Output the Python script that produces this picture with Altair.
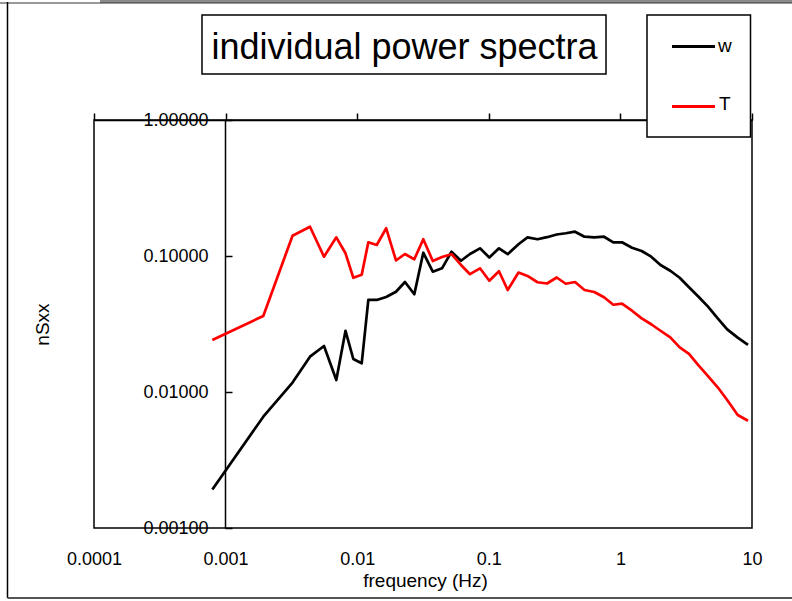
import altair as alt
import pandas as pd

# ---- data ----
freq = [0.000793, 0.001934, 0.003225, 0.004378, 0.005594, 0.006938, 0.008150, 0.009342, 0.01082, 0.01215,
        0.01407, 0.01661, 0.01971, 0.02307, 0.02716, 0.03178, 0.03753, 0.04410, 0.05208, 0.06149,
        0.07195, 0.08573, 0.1009, 0.1195, 0.1392, 0.1681, 0.1968, 0.2345, 0.2768, 0.3281,
        0.3841, 0.4519, 0.5336, 0.6333, 0.7506, 0.8830, 1.0285, 1.2249, 1.451, 1.714,
        2.017, 2.394, 2.822, 3.321, 3.923, 4.632, 5.488, 6.480, 7.786, 9.324]
w_vals = [0.00192, 0.00658, 0.01174, 0.01818, 0.02179, 0.01225, 0.0282, 0.01748, 0.01626, 0.0475,
          0.0475, 0.0499, 0.0546, 0.0644, 0.0523, 0.1057, 0.0767, 0.0812, 0.1075, 0.0922,
          0.1034, 0.1139, 0.0975, 0.1139, 0.1031, 0.1221, 0.1372, 0.1327, 0.1375, 0.1439,
          0.1469, 0.1509, 0.1386, 0.1372, 0.1386, 0.1261, 0.1261, 0.1151, 0.1088, 0.0988,
          0.0859, 0.0779, 0.0692, 0.0589, 0.0502, 0.0424, 0.0348, 0.0289, 0.0251, 0.0222]
T_vals = [0.02413, 0.03622, 0.1410, 0.1642, 0.0988, 0.1372, 0.1047, 0.0692, 0.0729, 0.1261,
          0.1205, 0.1599, 0.0927, 0.1034, 0.0946, 0.1329, 0.0919, 0.0983, 0.1031, 0.0859,
          0.0735, 0.0812, 0.0658, 0.0773, 0.0562, 0.0756, 0.0713, 0.0641, 0.0628, 0.0695,
          0.0625, 0.0644, 0.0562, 0.0544, 0.0497, 0.0438, 0.0446, 0.0396, 0.0348, 0.0315,
          0.0282, 0.0252, 0.0213, 0.0191, 0.0157, 0.0131, 0.01083, 0.00873, 0.00678, 0.00615]
series_names = ["w", "T"]
series_colors = ["#000000", "#ff0000"]
x_ticks = [0.0001, 0.001, 0.01, 0.1, 1, 10]
y_ticks = [0.001, 0.01, 0.1, 1]
chart_title = "individual power spectra"
x_title = "frequency (Hz)"
y_title = "nSxx"

FONT = "Liberation Sans"

df = pd.concat([
    pd.DataFrame({"freq": freq, "val": w_vals, "series": "w", "order": 0}),
    pd.DataFrame({"freq": freq, "val": T_vals, "series": "T", "order": 1}),
], ignore_index=True)

W, H = 658, 408
xscale = alt.Scale(type="log", domain=[0.0001, 10], nice=False)
yscale = alt.Scale(type="log", domain=[0.001, 1], nice=False)

# layer carrying bottom x labels and left y labels (axis line at x = 0.001)
axes_a = alt.Chart(df).mark_line(opacity=0).encode(
    x=alt.X("freq:Q", scale=xscale, axis=alt.Axis(
        orient="bottom", values=x_ticks, format="~g", domain=False, ticks=False, grid=False,
        labelPadding=22, labelFontSize=18, labelFont=FONT, labelColor="black",
        labelFlush=False, labelOverlap=False,
        title=x_title, titleFont=FONT, titleFontSize=19, titleFontWeight="normal", titleColor="black",
        titleX=331, titleY=52, titleBaseline="middle", titleAlign="center")),
    y=alt.Y("val:Q", scale=yscale, axis=alt.Axis(
        orient="left", offset=-131, values=y_ticks, format=".5f", domain=True, domainColor="black",
        domainWidth=1.5, ticks=False, grid=False, labelPadding=17, labelFontSize=18, labelFont=FONT,
        labelColor="black", labelFlush=False, labelOverlap=False,
        title=y_title, titleFont=FONT, titleFontSize=19, titleFontWeight="normal", titleColor="black",
        titleX=-183, titleY=204, titleAngle=270, titleBaseline="middle", titleAlign="center")),
)

# layer carrying top x ticks and inward y ticks
axes_b = alt.Chart(df).mark_line(opacity=0).encode(
    x=alt.X("freq:Q", scale=xscale, axis=alt.Axis(
        orient="top", values=x_ticks, labels=False, ticks=True, tickSize=7, tickColor="black",
        tickWidth=1.5, domain=True, domainColor="black", domainWidth=1.5, grid=False, title=None)),
    y=alt.Y("val:Q", scale=yscale, axis=alt.Axis(
        orient="right", offset=-527, values=y_ticks, labels=False, ticks=True, tickSize=7,
        tickColor="black", tickWidth=1.5, domain=False, grid=False, title=None)),
)

lines = alt.Chart(df).mark_line(strokeWidth=2.7, strokeJoin="round").encode(
    x=alt.X("freq:Q", scale=xscale, axis=None),
    y=alt.Y("val:Q", scale=yscale, axis=None),
    color=alt.Color("series:N", scale=alt.Scale(domain=series_names, range=series_colors), legend=None),
    order="order:Q",
)

one = pd.DataFrame({"k": [0]})

# outer chart-area frame
frame_top_grey = alt.Chart(one).mark_rule(color="#8c8c8c", strokeWidth=3).encode(
    x=alt.value(6), x2=alt.value(698), y=alt.value(-118.5))
frame_top = alt.Chart(one).mark_rule(color="#333333", strokeWidth=1).encode(
    x=alt.value(-94), x2=alt.value(698), y=alt.value(-117))
frame_left = alt.Chart(one).mark_rule(color="black", strokeWidth=1.5).encode(
    x=alt.value(-86.5), y=alt.value(-118), y2=alt.value(478))
frame_bottom = alt.Chart(one).mark_rule(color="#555555", strokeWidth=2).encode(
    x=alt.value(-86.5), x2=alt.value(698), y=alt.value(478))

# title box
title_box = alt.Chart(one).mark_rect(fill="white", stroke="black", strokeWidth=1.5).encode(
    x=alt.value(108), x2=alt.value(512), y=alt.value(-105), y2=alt.value(-46))
title_text = alt.Chart(one).mark_text(
    text=chart_title, font=FONT, fontSize=36, align="center", baseline="alphabetic", color="black"
).encode(x=alt.value(310.5), y=alt.value(-61))

# legend box
leg_box = alt.Chart(one).mark_rect(fill="white", stroke="black", strokeWidth=1.5).encode(
    x=alt.value(553), x2=alt.value(656.5), y=alt.value(-105), y2=alt.value(17))
leg_w = alt.Chart(one).mark_rule(color=series_colors[0], strokeWidth=3).encode(
    x=alt.value(578), x2=alt.value(621), y=alt.value(-73.5))
leg_T = alt.Chart(one).mark_rule(color=series_colors[1], strokeWidth=3).encode(
    x=alt.value(578), x2=alt.value(621), y=alt.value(-13.5))
leg_w_txt = alt.Chart(one).mark_text(
    text=series_names[0], font=FONT, fontSize=19, align="left", baseline="middle", color="black"
).encode(x=alt.value(624), y=alt.value(-74))
leg_T_txt = alt.Chart(one).mark_text(
    text=series_names[1], font=FONT, fontSize=19, align="left", baseline="middle", color="black"
).encode(x=alt.value(625), y=alt.value(-16))

chart = alt.layer(
    axes_a, axes_b, lines,
    frame_top_grey, frame_top, frame_left, frame_bottom,
    title_box, title_text,
    leg_box, leg_w, leg_T, leg_w_txt, leg_T_txt,
).properties(
    width=W, height=H,
    autosize=alt.AutoSizeParams(type="none"),
    padding={"left": 94, "top": 120, "right": 40, "bottom": 73},
    background="white",
).configure_view(stroke="black", strokeWidth=1.5)

chart.save("out.html", embed_options={"renderer": "svg", "actions": False})
